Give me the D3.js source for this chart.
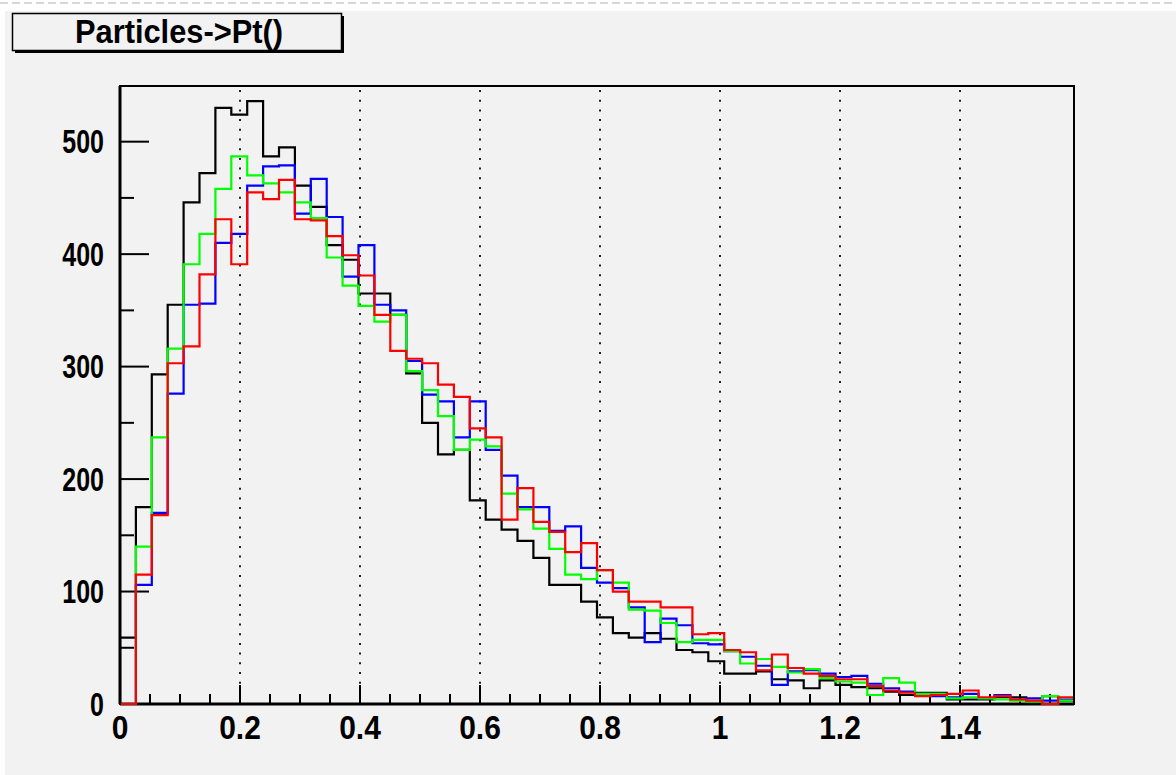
<!DOCTYPE html>
<html>
<head>
<meta charset="utf-8">
<script src="https://cdn.jsdelivr.net/npm/d3@7"></script>
<style>
  html, body { margin: 0; padding: 0; background: #f2f2f2; }
  svg { display: block; }
  text { font-family: "Liberation Sans", Arial, sans-serif; font-weight: bold; }
</style>
</head>
<body>
<svg id="chart" width="1176" height="775"></svg>
<script>
// ---- data (60 bins from 0 to 1.59) ----
const title = "Particles->Pt()";
const xMin = 0, xMax = 1.59, nBins = 60;
const yMax = 549.5;
const xTickValues = [0, 0.2, 0.4, 0.6, 0.8, 1, 1.2, 1.4];
const yTickValues = [0, 100, 200, 300, 400, 500];
const seriesNames = ["black", "blue", "green", "red"];

const blackValues = [59,175,293,355,446,472,530,524,536,487,495,461,442,408,395,365,365,346,294,250,
  222,226,181,164,155,145,130,106,106,91,77,63,59,63,58,48,46,38,27,27,
  29,22,21,14,21,17,15,14,11,8,10,10,4,4,4,6,6,2,7,3];
const blueValues = [0,106,170,276,355,356,410,418,461,478,479,436,467,433,380,408,355,350,305,275,
  269,237,269,226,203,175,175,154,158,121,108,103,86,55,76,70,54,53,47,42,
  34,17,29,30,27,24,25,18,14,11,9,7,6,9,5,8,4,5,3,4];
const greenValues = [0,140,237,316,391,418,458,487,470,463,455,446,432,397,372,354,340,346,296,279,
  256,226,235,229,187,173,156,138,115,111,119,108,84,83,72,55,57,57,47,36,
  40,33,28,31,23,20,19,8,23,19,9,9,5,6,5,4,3,2,7,3];
const redValues = [0,115,168,303,318,382,431,391,455,449,466,431,430,416,399,381,346,314,307,303,
  284,273,245,237,164,192,162,153,135,143,119,100,91,91,86,86,62,63,48,46,
  30,44,32,27,25,22,22,16,12,10,7,8,9,12,6,7,4,3,0,6];
const seriesColors = ["#000000", "#0000ff", "#00ff00", "#ff0000"];

// ---- layout ----
const W = 1176, H = 775;
const frame = { left: 120, right: 1074, top: 86, bottom: 704 };
const svg = d3.select("#chart");

// page border artefacts
svg.append("rect").attr("x", 0).attr("y", 0).attr("width", W).attr("height", H).attr("fill", "#f2f2f2");
svg.append("rect").attr("x", 0).attr("y", 0).attr("width", W).attr("height", 11).attr("fill", "#ffffff");
svg.append("rect").attr("x", 0).attr("y", 0).attr("width", 5).attr("height", H).attr("fill", "#ffffff");
svg.append("line").attr("x1", 0).attr("x2", W).attr("y1", 3).attr("y2", 3)
  .attr("stroke", "#d8d8d8").attr("stroke-width", 2).attr("stroke-dasharray", "8 4");

const x = d3.scaleLinear().domain([xMin, xMax]).range([frame.left, frame.right]);
const y = d3.scaleLinear().domain([0, yMax]).range([frame.bottom, frame.top]);

// frame background
svg.append("rect").attr("x", frame.left).attr("y", frame.top)
  .attr("width", frame.right - frame.left).attr("height", frame.bottom - frame.top)
  .attr("fill", "#f2f2f2");

// dotted vertical grid
svg.append("g").selectAll("line").data(xTickValues.filter(d => d > 0)).join("line")
  .attr("x1", d => x(d)).attr("x2", d => x(d))
  .attr("y1", frame.top + 4).attr("y2", frame.bottom)
  .attr("stroke", "#222").attr("stroke-width", 2).attr("stroke-dasharray", "2 7.7");

// frame outline
svg.append("rect").attr("x", frame.left).attr("y", frame.top)
  .attr("width", frame.right - frame.left).attr("height", frame.bottom - frame.top)
  .attr("fill", "none").attr("stroke", "#000").attr("stroke-width", 2);
svg.append("line").attr("x1", frame.left).attr("x2", frame.left).attr("y1", frame.top).attr("y2", frame.bottom)
  .attr("stroke", "#000").attr("stroke-width", 3);
svg.append("line").attr("x1", frame.left).attr("x2", frame.right).attr("y1", frame.bottom).attr("y2", frame.bottom)
  .attr("stroke", "#000").attr("stroke-width", 3);

// y axis ticks (major 100, minor 50)
const yMinor = d3.range(0, yMax, 50);
svg.append("g").selectAll("line").data(yMinor).join("line")
  .attr("x1", frame.left).attr("x2", d => frame.left + (d % 100 === 0 ? 29 : 14))
  .attr("y1", d => y(d)).attr("y2", d => y(d))
  .attr("stroke", "#000").attr("stroke-width", 2);

// x axis ticks (major 0.2, minor 0.05)
const xMinor = d3.range(0, 64).map(i => i * 0.05).filter(d => d <= xMax);
svg.append("g").selectAll("line").data(xMinor).join("line")
  .attr("x1", d => x(d)).attr("x2", d => x(d))
  .attr("y1", frame.bottom).attr("y2", (d, i) => frame.bottom - (i % 4 === 0 ? 19 : 10))
  .attr("stroke", "#000").attr("stroke-width", 2);

// clip
svg.append("clipPath").attr("id", "clip").append("rect")
  .attr("x", frame.left + 1).attr("y", frame.top)
  .attr("width", frame.right - frame.left - 2).attr("height", frame.bottom - frame.top + 1);

const binW = (xMax - xMin) / nBins;
function stepPath(vals) {
  const p = d3.path();
  p.moveTo(x(xMin), y(0));
  vals.forEach((v, i) => {
    p.lineTo(x(xMin + i * binW), y(v));
    p.lineTo(x(xMin + (i + 1) * binW), y(v));
  });
  p.lineTo(x(xMax), y(0));
  return p.toString();
}
const allSeries = [blackValues, blueValues, greenValues, redValues];
svg.append("g").attr("clip-path", "url(#clip)").selectAll("path").data(allSeries).join("path")
  .attr("d", d => stepPath(d))
  .attr("fill", "none")
  .attr("stroke", (d, i) => seriesColors[i])
  .attr("stroke-width", 2.2)
  .attr("stroke-linejoin", "miter");

// y labels
svg.append("g").selectAll("g").data(yTickValues).join("g")
  .attr("transform", d => `translate(104,${y(d)}) scale(1,1.3)`)
  .append("text")
  .attr("text-anchor", "end").attr("dy", "0.36em")
  .attr("font-size", 25).text(d => d3.format("d")(d));

// x labels
svg.append("g").selectAll("g").data(xTickValues).join("g")
  .attr("transform", d => `translate(${x(d)},739) scale(1,1.12)`)
  .append("text")
  .attr("text-anchor", "middle")
  .attr("font-size", 30).text(d => d3.format("~g")(d));

// title box with shadow
svg.append("rect").attr("x", 15).attr("y", 16).attr("width", 329).attr("height", 37).attr("fill", "#000");
svg.append("rect").attr("x", 12.5).attr("y", 13.5).attr("width", 329).attr("height", 37)
  .attr("fill", "#f2f2f2").attr("stroke", "#000").attr("stroke-width", 1.5);
svg.append("g").attr("transform", "translate(179,43) scale(1,1.2)")
  .append("text").attr("text-anchor", "middle").attr("font-size", 27)
  .attr("textLength", 208).attr("lengthAdjust", "spacingAndGlyphs")
  .text(title);
</script>
</body>
</html>
